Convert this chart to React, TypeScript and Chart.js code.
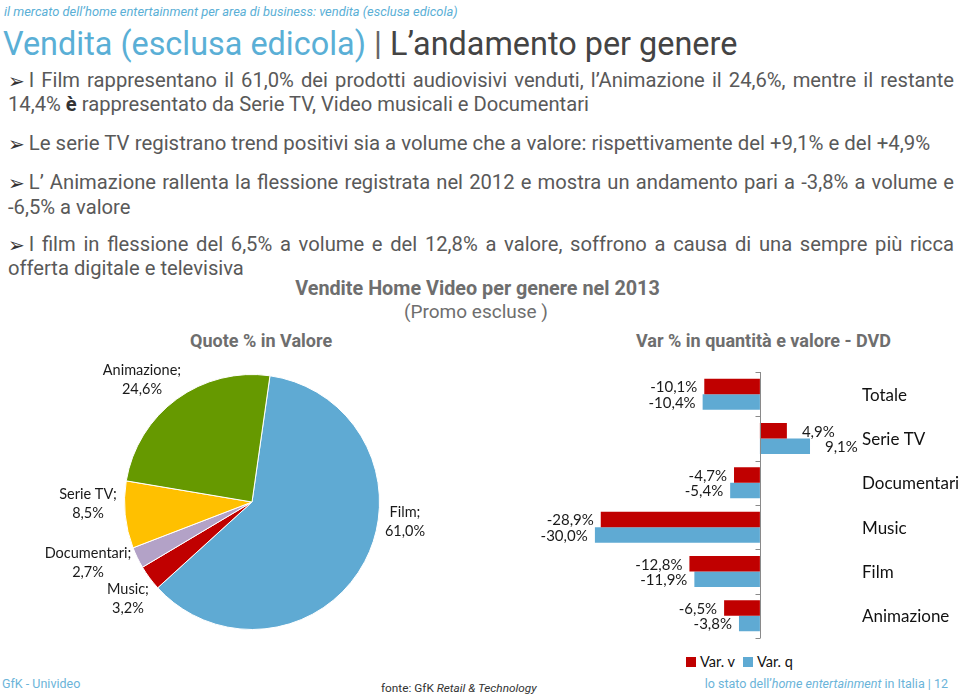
import React, { useEffect, useRef } from 'react';
import { Chart, registerables } from 'chart.js';

Chart.register(...registerables);

// ---------- DATA ----------
const pieCategories = ['Film', 'Music', 'Documentari', 'Serie TV', 'Animazione'];
const pieValues = [61.0, 3.2, 2.7, 8.5, 24.6];
const pieColors = ['#5FAAD3', '#C00000', '#B3A2C7', '#FFC000', '#669900'];

const barCategories = ['Totale', 'Serie TV', 'Documentari', 'Music', 'Film', 'Animazione'];
const varV = [-10.1, 4.9, -4.7, -28.9, -12.8, -6.5];
const varQ = [-10.4, 9.1, -5.4, -30.0, -11.9, -3.8];
const seriesLabels = ['Var. v', 'Var. q'];
const seriesColors = ['#C00000', '#5FAAD3'];

// label anchors for the pie (in units of the pie radius, relative to centre)
const pieLabelAnchors: [number, number][] = [
  [1.2, 0.157],
  [-0.973, 0.757],
  [-1.286, 0.475],
  [-1.286, 0.012],
  [-0.863, -0.961],
];

const fmt = (v: number) => v.toFixed(1).replace('.', ',') + '%';
const CHART_FONT = 'Lato, "Liberation Sans", sans-serif';
const TEXT_FONT = 'Roboto, "Noto Sans", sans-serif';

const pieLabelPlugin = {
  id: 'pieLabels',
  afterDatasetsDraw(chart: any) {
    const ctx = chart.ctx;
    const meta = chart.getDatasetMeta(0);
    ctx.save();
    ctx.font = `14.5px ${CHART_FONT}`;
    ctx.fillStyle = '#1a1a1a';
    ctx.textAlign = 'center';
    ctx.textBaseline = 'middle';
    meta.data.forEach((arc: any, i: number) => {
      const r = arc.outerRadius;
      const [ax, ay] = pieLabelAnchors[i];
      const cx = arc.x + ax * r;
      const cy = arc.y + ay * r;
      ctx.fillText(pieCategories[i] + ';', cx, cy - 9.5);
      ctx.fillText(fmt(pieValues[i]), cx, cy + 9.5);
    });
    ctx.restore();
  },
};

const barLabelPlugin = {
  id: 'barLabels',
  afterDatasetsDraw(chart: any) {
    const ctx = chart.ctx;
    const xs = chart.scales.x;
    const ys = chart.scales.y;
    const area = chart.chartArea;
    const x0 = Math.round(xs.getPixelForValue(0)) + 0.5;
    ctx.save();
    // zero axis with tick marks between categories
    ctx.strokeStyle = '#8a8a8a';
    ctx.lineWidth = 1;
    ctx.beginPath();
    ctx.moveTo(x0, area.top);
    ctx.lineTo(x0, area.bottom);
    for (let i = 0; i <= barCategories.length; i++) {
      const yy = Math.round(ys.getPixelForValue(i - 0.5)) + 0.5;
      ctx.moveTo(x0 - 5, yy);
      ctx.lineTo(x0, yy);
    }
    ctx.stroke();
    // category labels on the right
    ctx.font = `17px ${CHART_FONT}`;
    ctx.fillStyle = '#111';
    ctx.textAlign = 'left';
    ctx.textBaseline = 'middle';
    barCategories.forEach((c, i) => {
      ctx.fillText(c, area.right + 19.5, ys.getPixelForValue(i) + 1);
    });
    // value labels
    ctx.font = `15px ${CHART_FONT}`;
    ctx.fillStyle = '#1a1a1a';
    chart.data.datasets.forEach((ds: any, di: number) => {
      const meta = chart.getDatasetMeta(di);
      meta.data.forEach((bar: any, i: number) => {
        const v = ds.data[i];
        if (v < 0) {
          ctx.textAlign = 'right';
          ctx.fillText(fmt(v), bar.x - 7, bar.y + 1);
        } else {
          ctx.textAlign = 'left';
          ctx.fillText(fmt(v), bar.x + 15, bar.y + 1);
        }
      });
    });
    ctx.restore();
  },
};

function PieChart() {
  const ref = useRef<HTMLCanvasElement>(null);
  useEffect(() => {
    const chart = new Chart(ref.current as HTMLCanvasElement, {
      type: 'pie',
      data: {
        labels: pieCategories,
        datasets: [
          {
            data: pieValues,
            backgroundColor: pieColors,
            borderColor: '#ffffff',
            borderWidth: 1,
          },
        ],
      },
      options: {
        animation: false,
        responsive: false,
        maintainAspectRatio: false,
        rotation: 8.1,
        layout: { padding: { top: 19, bottom: 19, left: 20, right: 20 } },
        plugins: { legend: { display: false }, tooltip: { enabled: false } },
      },
      plugins: [pieLabelPlugin],
    } as any);
    return () => chart.destroy();
  }, []);
  return (
    <canvas
      ref={ref}
      width={504}
      height={294}
      style={{ position: 'absolute', left: 0, top: 355, width: 504, height: 294 }}
    />
  );
}

function BarChart() {
  const ref = useRef<HTMLCanvasElement>(null);
  useEffect(() => {
    const chart = new Chart(ref.current as HTMLCanvasElement, {
      type: 'bar',
      data: {
        labels: barCategories,
        datasets: [
          { label: seriesLabels[0], data: varV, backgroundColor: seriesColors[0], categoryPercentage: 0.7, barPercentage: 1 },
          { label: seriesLabels[1], data: varQ, backgroundColor: seriesColors[1], categoryPercentage: 0.7, barPercentage: 1 },
        ],
      },
      options: {
        indexAxis: 'y',
        animation: false,
        responsive: false,
        maintainAspectRatio: false,
        layout: { padding: { left: 74.7, right: 117.5, top: 12, bottom: 12 } },
        plugins: { legend: { display: false }, tooltip: { enabled: false } },
        scales: {
          x: { display: false, min: -30, max: 15 },
          y: { display: false },
        },
      },
      plugins: [barLabelPlugin],
    } as any);
    return () => chart.destroy();
  }, []);
  return (
    <canvas
      ref={ref}
      width={440}
      height={290}
      style={{ position: 'absolute', left: 520, top: 360, width: 440, height: 290 }}
    />
  );
}

const abs = (left: number, top: number, extra: React.CSSProperties = {}): React.CSSProperties => ({
  position: 'absolute',
  left,
  top,
  whiteSpace: 'nowrap',
  ...extra,
});

const Arrow = () => (
  <span style={{ fontFamily: '"DejaVu Sans"', fontSize: 20, color: '#333', marginRight: 4, position: 'relative', top: 1 }}>➢</span>
);

export default function App() {
  const gray = '#595959';
  const blue = '#5AAFD6';
  const body: React.CSSProperties = { fontFamily: TEXT_FONT, fontSize: 20.2, color: gray, lineHeight: '24px' };
  const just: React.CSSProperties = { width: 946, textAlign: 'justify', textAlignLast: 'justify' as any, whiteSpace: 'normal' };
  const head: React.CSSProperties = { fontFamily: TEXT_FONT, fontWeight: 700, color: '#6e6e6e', fontSize: 18, lineHeight: '24px' };
  return (
    <div style={{ position: 'absolute', left: 0, top: 0, width: 960, height: 696, overflow: 'hidden', background: '#fff' }}>
      <div style={abs(4, 2, { fontFamily: TEXT_FONT, fontStyle: 'italic', fontSize: 12.9, color: blue, lineHeight: '20px' })}>
        il mercato dell’home entertainment per area di business: vendita (esclusa edicola)
      </div>
      <div style={abs(3, 23, { fontFamily: TEXT_FONT, fontSize: 32.4, lineHeight: '42px' })}>
        <span style={{ color: blue }}>Vendita (esclusa edicola)</span>
        <span style={{ color: '#666' }}> | </span>
        <span style={{ color: '#444' }}>L’andamento per genere</span>
      </div>

      <div style={abs(8, 68, { ...body, ...just })}>
        <Arrow />I Film rappresentano il 61,0% dei prodotti audiovisivi venduti, l’Animazione il 24,6%, mentre il restante
      </div>
      <div style={abs(8, 92, body)}>
        14,4% <b style={{ color: '#333' }}>è</b> rappresentato da Serie TV, Video musicali e Documentari
      </div>
      <div style={abs(8, 131, { ...body, fontSize: 20.4 })}>
        <Arrow />Le serie TV registrano trend positivi sia a volume che a valore: rispettivamente del +9,1% e del +4,9%
      </div>
      <div style={abs(8, 170, { ...body, ...just })}>
        <Arrow />L’ Animazione rallenta la flessione registrata nel 2012 e mostra un andamento pari a -3,8% a volume e
      </div>
      <div style={abs(8, 195, body)}>-6,5% a valore</div>
      <div style={abs(8, 232, { ...body, ...just })}>
        <Arrow />I film in flessione del 6,5% a volume e del 12,8% a valore, soffrono a causa di una sempre più ricca
      </div>
      <div style={abs(8, 256, body)}>offerta digitale e televisiva</div>

      <div style={abs(0, 277, { ...head, width: 955, textAlign: 'center', fontSize: 19.8 })}>
        Vendite Home Video per genere nel 2013
      </div>
      <div style={abs(0, 300, { ...head, fontWeight: 400, width: 952, textAlign: 'center', fontSize: 19 })}>
        (Promo escluse )
      </div>
      <div style={abs(190, 329, head)}>Quote % in Valore</div>
      <div style={abs(636, 329, head)}>Var % in quantità e valore - DVD</div>

      <PieChart />
      <BarChart />

      <div style={abs(686, 653, { fontFamily: CHART_FONT, fontSize: 14.5, color: '#111', lineHeight: '18px', display: 'flex', alignItems: 'center' })}>
        {seriesLabels.map((l, i) => (
          <span key={l} style={{ display: 'inline-flex', alignItems: 'center', marginRight: 8 }}>
            <span style={{ display: 'inline-block', width: 10, height: 10, background: seriesColors[i], marginRight: 4 }} />
            {l}
          </span>
        ))}
      </div>

      <div style={abs(2, 676, { fontFamily: TEXT_FONT, fontSize: 12.5, color: '#6BB4D9', lineHeight: '16px' })}>GfK - Univideo</div>
      <div style={abs(381, 680, { fontFamily: TEXT_FONT, fontSize: 11.8, color: '#333', lineHeight: '16px' })}>
        fonte: GfK <i>Retail &amp; Technology</i>
      </div>
      <div style={abs(0, 676, { fontFamily: TEXT_FONT, fontSize: 12.5, color: '#6BB4D9', lineHeight: '16px', width: 948, textAlign: 'right' })}>
        lo stato dell’<i>home entertainment</i> in Italia | 12
      </div>
    </div>
  );
}
